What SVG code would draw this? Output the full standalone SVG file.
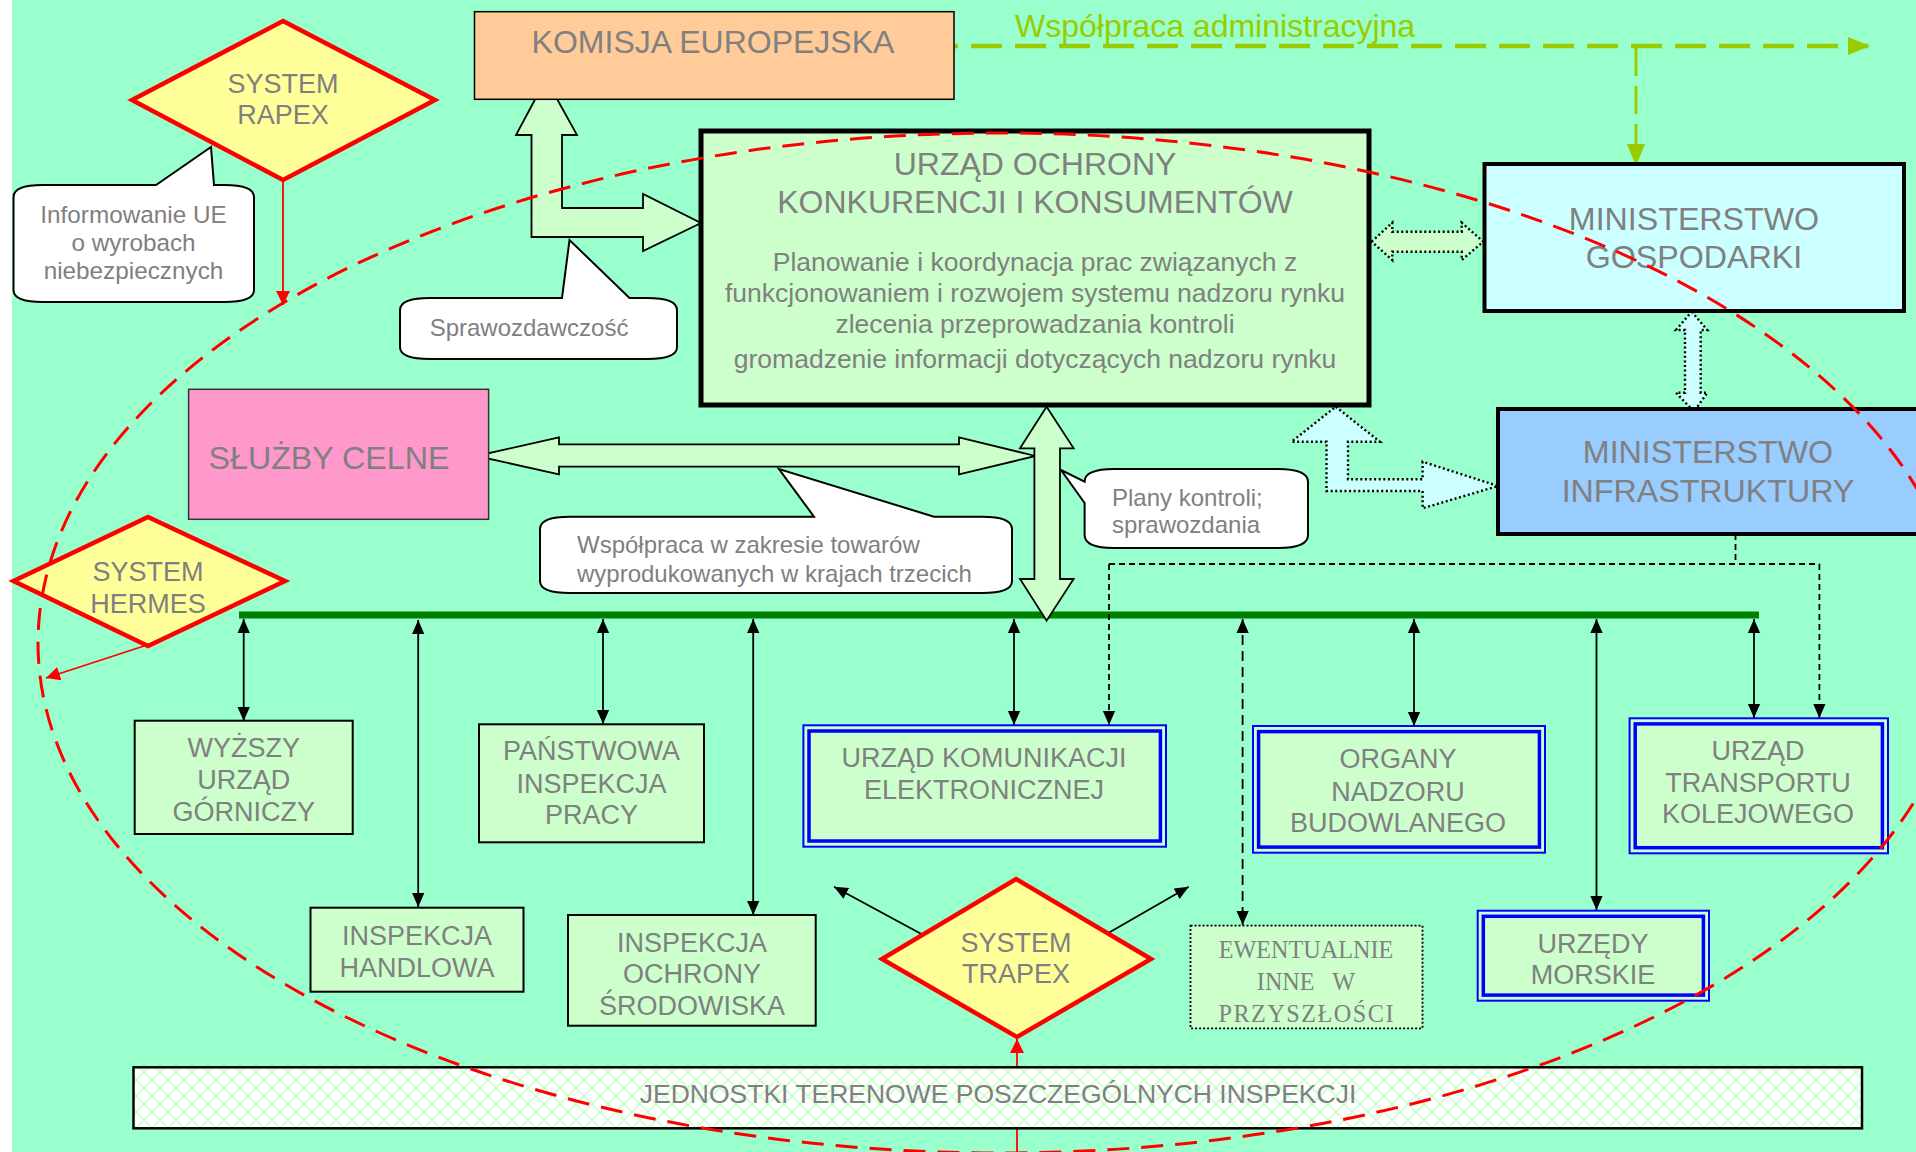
<svg xmlns="http://www.w3.org/2000/svg" width="1916" height="1152" viewBox="0 0 1916 1152">
<style>
.t{font-family:"Liberation Sans",Arial,sans-serif;fill:#808080;text-anchor:middle}
.ts{font-family:"Liberation Serif","Times New Roman",serif;fill:#808080;text-anchor:middle}
.lft{text-anchor:start}
.bx{font-size:27px}
.box{fill:#CCFFCC;stroke:#000;stroke-width:2}
.bo{fill:#CCFFCC;stroke:#0000FF;stroke-width:2}
.bi{fill:none;stroke:#0000FF;stroke-width:3.5}
.dia{fill:#FFFF99;stroke:#FF0000;stroke-width:4.5}
.call{fill:#FFFFFF;stroke:#000;stroke-width:2}
.blk{fill:#CCFFCC;stroke:#000;stroke-width:1.8}
.dot{stroke:#000;stroke-width:2.4;stroke-dasharray:2 2.6}
.con{stroke:#000;stroke-width:1.8;fill:none}
.bi2{marker-start:url(#ah);marker-end:url(#ah)}
.red{stroke:#FF0000;stroke-width:1.8;fill:none;marker-end:url(#ahr)}
</style>
<defs>
<marker id="ah" markerUnits="userSpaceOnUse" markerWidth="14" markerHeight="16" viewBox="0 0 16 14" refX="16" refY="7" orient="auto-start-reverse"><path d="M0,0 L16,7 L0,14 z" fill="#000"/></marker>
<marker id="ahr" markerUnits="userSpaceOnUse" markerWidth="14" markerHeight="14" viewBox="0 0 14 14" refX="14" refY="7" orient="auto"><path d="M0,0 L14,7 L0,14 z" fill="#FF0000"/></marker>
<marker id="ahg" markerUnits="userSpaceOnUse" markerWidth="22" markerHeight="18" viewBox="0 0 22 18" refX="20" refY="9" orient="auto"><path d="M0,0 L22,9 L0,18 z" fill="#99CC00"/></marker>
<pattern id="hatch" width="16" height="16" patternUnits="userSpaceOnUse"><rect width="16" height="16" fill="#FFFFFF"/><path d="M0,0 L16,16 M16,0 L0,16" stroke="#CCFFCC" stroke-width="1.6"/></pattern>
</defs>
<rect x="0" y="0" width="1916" height="1152" fill="#99FFCC"/>
<rect x="0" y="0" width="12" height="1152" fill="#FFFFFF"/>

<g id="connectors">
<line x1="927" y1="46" x2="1868" y2="46" stroke="#99CC00" stroke-width="4.5" stroke-dasharray="31 13" marker-end="url(#ahg)"/>
<line x1="1636" y1="48" x2="1636" y2="164" stroke="#99CC00" stroke-width="3" stroke-dasharray="28 10" marker-end="url(#ahg)"/>
<line x1="239" y1="615" x2="1759" y2="615" stroke="#008000" stroke-width="7"/>
<line class="con bi2" x1="243.7" y1="619" x2="243.7" y2="721"/>
<line class="con bi2" x1="418.2" y1="620" x2="418.2" y2="907"/>
<line class="con bi2" x1="603" y1="619" x2="603" y2="724"/>
<line class="con bi2" x1="753.2" y1="619" x2="753.2" y2="915"/>
<line class="con bi2" x1="1014" y1="619" x2="1014" y2="725"/>
<line class="con bi2" x1="1414" y1="619" x2="1414" y2="726"/>
<line class="con bi2" x1="1596.5" y1="619" x2="1596.5" y2="910"/>
<line class="con bi2" x1="1754" y1="619" x2="1754" y2="718"/>
<line class="con bi2" x1="1242.6" y1="619" x2="1242.6" y2="925" stroke-dasharray="10 6"/>
<path class="con" d="M1735.5,534 V564 M1109,564 H1819.4" stroke-dasharray="6 4"/>
<line class="con" x1="1109" y1="564" x2="1109" y2="725" stroke-dasharray="6 4" marker-end="url(#ah)"/>
<line class="con" x1="1819.4" y1="564" x2="1819.4" y2="718" stroke-dasharray="6 4" marker-end="url(#ah)"/>
<line class="con" x1="924.6" y1="935.7" x2="834" y2="886.7" stroke-width="2.2" marker-end="url(#ah)"/>
<line class="con" x1="1107.9" y1="933.3" x2="1188.7" y2="886.7" stroke-width="2.2" marker-end="url(#ah)"/>
<line class="red" x1="283" y1="181" x2="283" y2="305"/>
<line class="red" x1="144" y1="646" x2="46" y2="678"/>
<line class="red" x1="1017" y1="1152" x2="1017" y2="1039"/>
<polygon class="blk" points="546,79 577,135 562,135 562,208 643,208 643,194 701,223 643,251 643,237 531.5,237 531.5,135 516,135"/>
<polygon class="blk" points="476.4,456 559,437.3 559,444.3 959,444.3 959,437.3 1035.6,456 959,474.3 959,466.7 559,466.7 559,474.3"/>
<polygon class="blk" points="1046.6,406.7 1073.6,448.3 1060,448.3 1060,579 1073.6,579 1046.6,620.7 1020,579 1034.4,579 1034.4,448.3 1020,448.3"/>
<polygon class="dot" fill="#CCFFCC" points="1371.7,241.7 1392.3,222.7 1392.3,231.7 1461.7,231.7 1461.7,222.7 1483.3,241.7 1461.7,260 1461.7,251.7 1392.3,251.7 1392.3,260"/>
<polygon class="dot" fill="#CCFFFF" points="1691.7,311.7 1707.3,330 1700.7,330 1700.7,392.7 1707.3,392.7 1694,411.7 1676,392.7 1685,392.7 1685,330 1676,330"/>
<polygon class="dot" fill="#CCFFFF" points="1335.7,406.7 1379.8,441.7 1348,441.7 1348,479.3 1422.6,479.3 1422.6,461.7 1498,486 1422.6,508.3 1422.6,491 1326.5,491 1326.5,441.7 1291.6,441.7"/>
</g>

<g id="komisja">
<rect x="474.5" y="11.7" width="479.5" height="87.6" fill="#FFCC99" stroke="#000" stroke-width="1.5"/>
<text class="t" x="713" y="53" font-size="32">KOMISJA EUROPEJSKA</text>
</g>
<text id="wspolpraca-label" x="1015" y="37" font-size="32" font-family="'Liberation Sans',Arial,sans-serif" fill="#99CC00">Współpraca administracyjna</text>

<g id="uokik">
<rect x="701" y="131" width="668" height="274" fill="#CCFFCC" stroke="#000" stroke-width="5"/>
<text class="t" x="1035" y="175" font-size="32">URZĄD OCHRONY</text>
<text class="t" x="1035" y="213" font-size="32">KONKURENCJI I KONSUMENTÓW</text>
<text class="t" x="1035" y="271" font-size="26.5">Planowanie i koordynacja prac związanych z</text>
<text class="t" x="1035" y="302" font-size="26.5">funkcjonowaniem i rozwojem systemu nadzoru rynku</text>
<text class="t" x="1035" y="333" font-size="26.5">zlecenia przeprowadzania kontroli</text>
<text class="t" x="1035" y="368" font-size="26.5">gromadzenie informacji dotyczących nadzoru rynku</text>
</g>

<g id="gospodarki">
<rect x="1484.5" y="164" width="419.5" height="147" fill="#CCFFFF" stroke="#000" stroke-width="4"/>
<text class="t" x="1694" y="230" font-size="32.2">MINISTERSTWO</text>
<text class="t" x="1694" y="268" font-size="32.2">GOSPODARKI</text>
</g>

<g id="infrastruktury">
<rect x="1498" y="409" width="440" height="125" fill="#99CCFF" stroke="#000" stroke-width="4"/>
<text class="t" x="1708" y="463" font-size="32.2">MINISTERSTWO</text>
<text class="t" x="1708" y="502" font-size="32.2">INFRASTRUKTURY</text>
</g>

<g id="sluzby">
<rect x="188.6" y="389.3" width="300" height="130" fill="#FF99CC" stroke="#333" stroke-width="1.5"/>
<text class="t" x="329" y="469" font-size="32.2">SŁUŻBY CELNE</text>
</g>

<g id="rapex">
<polygon class="dia" points="283,21 435,100 283,180 132,100"/>
<text class="t bx" x="283" y="93">SYSTEM</text>
<text class="t bx" x="283" y="124">RAPEX</text>
</g>

<g id="hermes">
<polygon class="dia" points="148,517 285,581 148,646 13.5,581"/>
<text class="t bx" x="148" y="581">SYSTEM</text>
<text class="t bx" x="148" y="613">HERMES</text>
</g>

<g id="trapex">
<polygon class="dia" points="1016,879 1151,959 1017,1037 882,959"/>
<text class="t bx" x="1016" y="952">SYSTEM</text>
<text class="t bx" x="1016" y="983">TRAPEX</text>
</g>

<g id="callout-informowanie">
<path class="call" d="M43,185 L156,185 L211,147 L214,185 L224,185 Q254,185 254,197 L254,290 Q254,302 224,302 L43,302 Q13.5,302 13.5,290 L13.5,197 Q13.5,185 43,185 Z"/>
<text class="t" x="133.5" y="223" font-size="24.3">Informowanie UE</text>
<text class="t" x="133.5" y="251" font-size="24.3">o wyrobach</text>
<text class="t" x="133.5" y="279" font-size="24.3">niebezpiecznych</text>
</g>

<g id="callout-sprawozdawczosc">
<path class="call" d="M430,298 L562,298 L569.5,240 L629.5,298 L647,298 Q677,298 677,310 L677,347 Q677,359 647,359 L430,359 Q400,359 400,347 L400,310 Q400,298 430,298 Z"/>
<text class="t" x="529" y="336" font-size="24">Sprawozdawczość</text>
</g>

<g id="callout-towary">
<path class="call" d="M570,516.7 L814,516.7 L779,469 L934,516.7 L982,516.7 Q1012,516.7 1012,529 L1012,581 Q1012,593 982,593 L570,593 Q540,593 540,581 L540,529 Q540,516.7 570,516.7 Z"/>
<text class="t lft" x="577" y="553" font-size="24">Współpraca w zakresie towarów</text>
<text class="t lft" x="577" y="582" font-size="24">wyprodukowanych w krajach trzecich</text>
</g>

<g id="callout-plany">
<path class="call" d="M1114,469 L1278,469 Q1308,469 1308,482 L1308,535 Q1308,548 1278,548 L1114,548 Q1084.6,548 1084.6,535 L1084.6,503 L1061,470 L1084.6,481.7 Q1084.6,469 1114,469 Z"/>
<text class="t lft" x="1112" y="506" font-size="24">Plany kontroli;</text>
<text class="t lft" x="1112" y="533" font-size="24">sprawozdania</text>
</g>

<g id="wug">
<rect class="box" x="134.7" y="720.7" width="218" height="113.3"/>
<text class="t bx" x="243.7" y="757">WYŻSZY</text>
<text class="t bx" x="243.7" y="789">URZĄD</text>
<text class="t bx" x="243.7" y="821">GÓRNICZY</text>
</g>

<g id="pip">
<rect class="box" x="479" y="724.3" width="225" height="118"/>
<text class="t bx" x="591.5" y="760">PAŃSTWOWA</text>
<text class="t bx" x="591.5" y="793">INSPEKCJA</text>
<text class="t bx" x="591.5" y="824">PRACY</text>
</g>

<g id="ih">
<rect class="box" x="310.5" y="907.7" width="213" height="84"/>
<text class="t bx" x="417" y="945">INSPEKCJA</text>
<text class="t bx" x="417" y="977">HANDLOWA</text>
</g>

<g id="ios">
<rect class="box" x="568" y="915" width="247.7" height="110.7"/>
<text class="t bx" x="692" y="952">INSPEKCJA</text>
<text class="t bx" x="692" y="983">OCHRONY</text>
<text class="t bx" x="692" y="1015">ŚRODOWISKA</text>
</g>

<g id="uke">
<rect class="bo" x="803.4" y="725.3" width="362.6" height="121.4"/>
<rect class="bi" x="809" y="731" width="351.4" height="110"/>
<text class="t bx" x="984" y="767">URZĄD KOMUNIKACJI</text>
<text class="t bx" x="984" y="799">ELEKTRONICZNEJ</text>
</g>

<g id="onb">
<rect class="bo" x="1253" y="726" width="292" height="126.7"/>
<rect class="bi" x="1258.6" y="731.6" width="280.8" height="115.5"/>
<text class="t bx" x="1398" y="768">ORGANY</text>
<text class="t bx" x="1398" y="801">NADZORU</text>
<text class="t bx" x="1398" y="832">BUDOWLANEGO</text>
</g>

<g id="utk">
<rect class="bo" x="1629.6" y="718.3" width="258.4" height="135"/>
<rect class="bi" x="1635.2" y="723.9" width="247.2" height="123.8"/>
<text class="t bx" x="1758" y="760">URZĄD</text>
<text class="t bx" x="1758" y="792">TRANSPORTU</text>
<text class="t bx" x="1758" y="823">KOLEJOWEGO</text>
</g>

<g id="um">
<rect class="bo" x="1477.7" y="910.7" width="231.3" height="90"/>
<rect class="bi" x="1483.3" y="916.3" width="220.1" height="78.8"/>
<text class="t bx" x="1593" y="953">URZĘDY</text>
<text class="t bx" x="1593" y="984">MORSKIE</text>
</g>

<g id="ewentualnie">
<rect x="1190.5" y="925.7" width="232" height="102.6" fill="#CCFFCC" stroke="#000" stroke-width="1.8" stroke-dasharray="2 2"/>
<text class="ts" x="1306" y="958" font-size="24.2">EWENTUALNIE</text>
<text class="ts" x="1306" y="990" font-size="24.2" xml:space="preserve">INNE   W</text>
<text class="ts" x="1306" y="1022" font-size="24.2" textLength="175" lengthAdjust="spacing">PRZYSZŁOŚCI</text>
</g>

<g id="jednostki">
<rect x="133.5" y="1067.3" width="1728.5" height="61" fill="url(#hatch)" stroke="#000" stroke-width="2.5"/>
<text class="t" x="998" y="1103" font-size="26.5">JEDNOSTKI TERENOWE POSZCZEGÓLNYCH INSPEKCJI</text>
</g>

<ellipse id="nadzor-ellipse" cx="1000" cy="643" rx="962" ry="510" fill="none" stroke="#FF0000" stroke-width="3" stroke-dasharray="22 12"/>
</svg>
